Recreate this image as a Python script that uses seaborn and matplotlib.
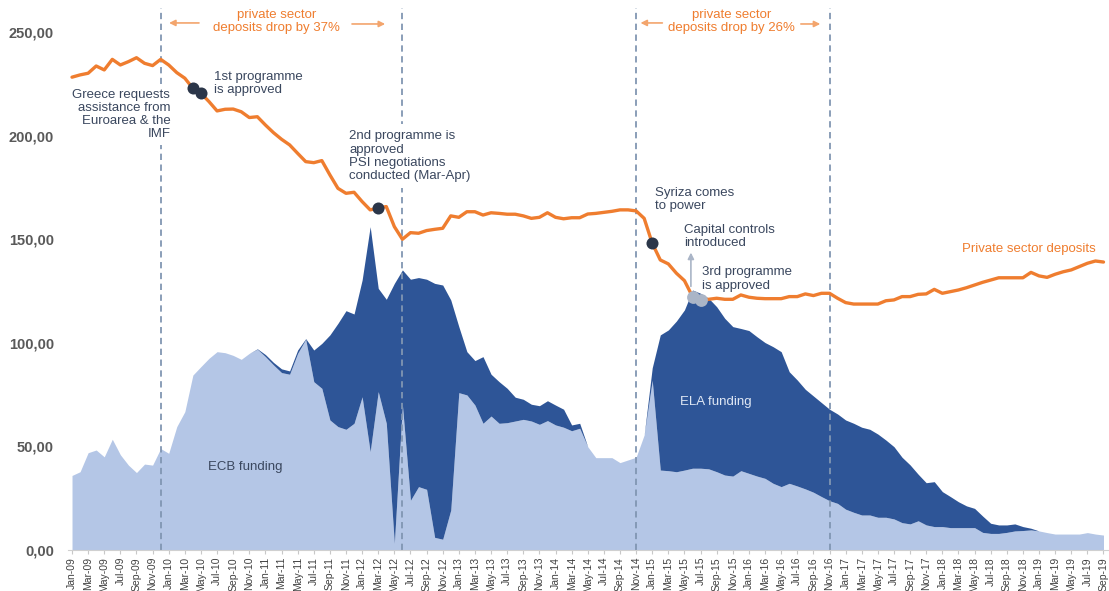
import matplotlib
matplotlib.use('Agg')
import matplotlib.pyplot as plt
import numpy as np
import seaborn as sns

# Monthly data, Jan-09 .. Sep-19 (bn EUR)
month_names = ['Jan', 'Feb', 'Mar', 'Apr', 'May', 'Jun', 'Jul', 'Aug', 'Sep', 'Oct', 'Nov', 'Dec']
months = [f'{m}-{y:02d}' for y in range(9, 20) for m in month_names][:129]

deposits = [228.4, 229.5, 230.3, 233.8, 231.9, 237.0, 234.3, 235.9, 237.8, 235.1, 234.0, 237.0,
            234.3, 230.6, 227.9, 223.0, 220.6, 216.6, 212.1, 212.9, 213.0, 211.7, 208.9, 209.3,
            205.3, 201.6, 198.4, 195.7, 191.6, 187.6, 187.1, 188.1, 181.2, 174.7, 172.3, 172.8,
            168.3, 164.3, 165.1, 165.9, 156.2, 150.1, 153.3, 153.0, 154.3, 154.9, 155.4, 161.4,
            160.7, 163.4, 163.4, 161.8, 162.9, 162.6, 162.2, 162.2, 161.4, 160.2, 160.7, 162.9,
            160.7, 160.0, 160.5, 160.5, 162.3, 162.6, 163.1, 163.6, 164.3, 164.3, 163.8, 160.2,
            148.2, 140.1, 138.2, 133.7, 130.1, 122.4, 120.8, 121.1, 121.6, 121.1, 121.1, 123.2,
            122.1, 121.6, 121.4, 121.4, 121.4, 122.4, 122.4, 123.7, 122.9, 124.0, 124.0, 121.6,
            119.5, 118.8, 118.8, 118.8, 118.8, 120.4, 120.8, 122.4, 122.4, 123.5, 123.7, 125.9,
            124.0, 124.8, 125.6, 126.7, 128.0, 129.3, 130.4, 131.5, 131.5, 131.5, 131.5, 134.1,
            132.4, 131.7, 133.2, 134.4, 135.3, 136.9, 138.5, 139.6, 139.1]

ecb = [36.0, 37.8, 47.0, 48.3, 45.0, 53.5, 46.0, 41.0, 37.4, 41.5, 41.0, 49.0,
       46.7, 59.6, 66.8, 84.5, 88.6, 92.6, 95.8, 95.3, 94.0, 92.1, 95.0, 97.0,
       93.4, 89.4, 85.7, 84.9, 95.0, 101.8, 81.3, 78.1, 62.8, 59.6, 58.3, 61.2,
       74.0, 47.5, 76.5, 61.2, 3.2, 70.0, 24.0, 30.6, 29.3, 6.1, 5.2, 19.3,
       76.0, 74.9, 70.0, 61.2, 64.7, 61.2, 61.5, 62.3, 63.1, 62.3, 60.7, 62.5,
       60.4, 59.3, 57.6, 58.8, 49.9, 44.6, 44.6, 44.6, 42.2, 43.5, 44.8, 55.6,
       82.0, 38.6, 38.3, 37.8, 38.6, 39.5, 39.5, 39.2, 37.8, 36.2, 35.7, 38.3,
       37.0, 35.7, 34.6, 32.2, 30.6, 32.2, 30.9, 29.5, 27.9, 25.8, 23.8, 22.5,
       19.7, 18.2, 16.9, 16.9, 15.8, 15.8, 15.0, 13.2, 12.6, 14.1, 12.1, 11.3,
       11.3, 10.8, 10.8, 10.8, 10.8, 8.5, 8.0, 8.0, 8.5, 9.2, 9.4, 9.7,
       9.2, 8.4, 7.7, 7.7, 7.7, 7.7, 8.4, 7.7, 7.2]

ela = [0] * 23 + [
       0.2, 1.0, 1.2, 1.8, 1.6, 1.6, 0.3, 15.3, 21.7, 41.1, 49.9, 57.3, 52.8,
       56.4, 108.7, 49.9, 59.9, 125.6, 65.3, 106.8, 101.0, 101.5, 122.7, 122.8, 101.5,
       31.9, 20.9, 21.5, 32.2, 20.2, 20.1, 16.6, 11.5, 9.7, 8.1, 9.0, 9.6,
       9.6, 8.7, 2.8, 2.4, 0, 0, 0, 0, 0, 0, 0, 0,
       6.0, 65.3, 68.0, 72.8, 77.4, 86.1, 84.5, 82.4, 79.7, 75.7, 72.2, 68.7,
       69.0, 67.3, 65.6, 66.0, 65.2, 53.9, 51.2, 48.1, 46.5, 45.4, 44.2, 43.2,
       43.1, 43.0, 42.4, 41.4, 40.2, 37.3, 34.9, 31.6, 28.5, 22.5, 20.4, 21.7,
       16.9, 15.0, 12.5, 10.5, 9.3, 7.9, 4.9, 4.1, 3.6, 3.4, 1.9, 0.8,
       0, 0, 0, 0, 0, 0, 0, 0, 0]

event_lines = ['Dec-09', 'Jun-12', 'Nov-14', 'Nov-16']
dark_dots = ['Apr-10', 'May-10', 'Mar-12', 'Jan-15']
grey_dots = ['Jun-15', 'Jul-15']

# colours
c_light = '#b4c6e6'
c_dark = '#2e5597'
c_orange = '#ef7d2f'
c_text = '#3a475e'
c_vline = '#8196b2'

sns.set_style('white')
plt.rcParams['font.family'] = ['Liberation Sans', 'DejaVu Sans']

idx = np.arange(len(months))
ecb_a = np.array(ecb)
total = ecb_a + np.array(ela)

fig = plt.figure(figsize=(11.09, 5.91), dpi=100)
ax = fig.add_axes([0.0613, 0.0694, 0.9381, 0.9177])

ax.fill_between(idx, 0, ecb_a, color=c_light, lw=0, zorder=1)
ax.fill_between(idx, ecb_a, total, color=c_dark, lw=0, zorder=1)

for m in event_lines:
    ax.axvline(months.index(m), color=c_vline, lw=1.3, ls=(0, (3.5, 2.5)), zorder=2)

sns.lineplot(x=idx, y=deposits, ax=ax, color=c_orange, lw=2.4, zorder=4)

dd = [months.index(m) for m in dark_dots]
ax.scatter(dd, [deposits[i] for i in dd], s=75, color='#2b3649', zorder=5, lw=0)
gd = [months.index(m) for m in grey_dots]
ax.scatter(gd, [deposits[i] for i in gd], s=85, color='#aab5c7', zorder=5, lw=0)

# annotations
tkw = dict(fontsize=9.5, color=c_text, linespacing=1.12, va='center')
ax.text(12.2, 210.4, 'Greece requests\nassistance from\nEuroarea & the\nIMF', ha='right',
        multialignment='right', zorder=3,
        bbox=dict(boxstyle='square,pad=0.35', fc='white', ec='none'), **tkw)
ax.text(17.6, 225.4, '1st programme\nis approved', ha='left', **tkw)
ax.text(34.4, 190.3, '2nd programme is\napproved\nPSI negotiations\nconducted (Mar-Apr)', ha='left',
        zorder=3, bbox=dict(boxstyle='square,pad=0.45', fc='white', ec='none'), **tkw)
ax.text(72.3, 169.1, 'Syriza comes\nto power', ha='left', **tkw)
ax.text(75.9, 151.4, 'Capital controls\nintroduced', ha='left', **tkw)
ax.text(78.2, 130.9, '3rd programme\nis approved', ha='left', **tkw)
ax.annotate('', xy=(76.8, 145.0), xytext=(76.8, 126.0),
            arrowprops=dict(arrowstyle='-|>', color='#aab5c7', lw=1.2, mutation_scale=9))

ax.text(127.0, 145.4, 'Private sector deposits', ha='right', va='center', fontsize=9.5, color=c_orange)
ax.text(21.5, 40.1, 'ECB funding', ha='center', va='center', fontsize=9.5, color=c_text)
ax.text(79.9, 71.6, 'ELA funding', ha='center', va='center', fontsize=9.5, color='#dfe7f4')

okw = dict(fontsize=9.5, color=c_orange, ha='center', va='center', linespacing=1.12)
ax.text(25.4, 255.5, 'private sector\ndeposits drop by 37%', **okw)
ax.text(81.8, 255.5, 'private sector\ndeposits drop by 26%', **okw)
akw = dict(arrowstyle='-|>', color='#f3a56d', lw=1.2, mutation_scale=9)
for x0, x1, yy in [(16.1, 11.7, 254.6), (34.4, 39.2, 254.1), (73.6, 70.2, 254.6), (90.1, 93.2, 254.1)]:
    ax.annotate('', xy=(x1, yy), xytext=(x0, yy), arrowprops=akw)

# axes styling
ax.set_xlim(-0.5, 128.6)
ax.set_ylim(0, 262)
ax.set_xticks(idx[::2])
ax.set_xticklabels(months[::2], rotation=90, fontsize=7.5, color='#404040')
yt = [0, 50, 100, 150, 200, 250]
ax.set_yticks(yt)
ax.set_yticklabels([f'{v},00' for v in yt], fontsize=10.5, fontweight='bold', color='#595959')
ax.tick_params(axis='y', length=0, pad=10)
ax.tick_params(axis='x', length=3, color='#c8c8c8', pad=2, bottom=True)
for s in ['top', 'right', 'left']:
    ax.spines[s].set_visible(False)
ax.spines['bottom'].set_color('#d0d0d0')
ax.set_xlabel('')
ax.set_ylabel('')

fig.savefig('out.png', dpi=100)
